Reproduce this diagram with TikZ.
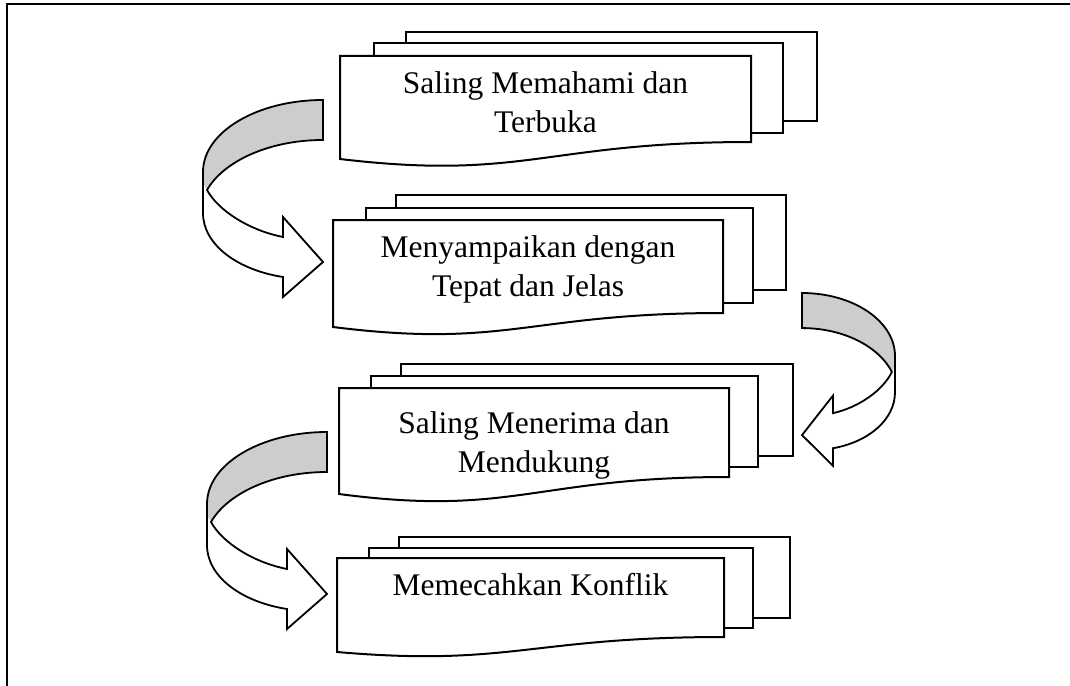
\documentclass[tikz,border=0pt]{standalone}
\usepackage{fontspec}
\setmainfont{Liberation Serif}
\definecolor{bandgray}{RGB}{205,205,205}

% curved ribbon arrow in local coordinates: u runs toward the bulge, v runs down
\newcommand\ribbonarrow{%
  \fill[bandgray] (0,0) .. controls (66,0) and (120,32) .. (120,72) -- (120,86)
    -- (116,90) .. controls (100,62) and (55,40) .. (0,40) -- cycle;
  \fill[white] (120,84) -- (120,113) .. controls (120,145) and (85,170) .. (40,177)
    -- (40,197) -- (0,162) -- (40,117) -- (40,137)
    .. controls (75,130) and (105,110) .. (116,90) -- cycle;
  \draw[band] (0,0) .. controls (66,0) and (120,32) .. (120,72) -- (120,113)
    .. controls (120,145) and (85,170) .. (40,177) -- (40,197) -- (0,162)
    -- (40,117) -- (40,137) .. controls (75,130) and (105,110) .. (116,90)
    .. controls (100,62) and (55,40) .. (0,40) -- cycle;
}

\begin{document}
\begin{tikzpicture}[x=1pt,y=-1pt,
  page/.style={draw=black,fill=white,line width=2pt,line join=miter},
  band/.style={draw=black,line width=1.8pt,line join=miter},
  label/.style={font=\fontsize{31.5}{38.5}\selectfont,align=center,anchor=base,inner sep=0pt}]
\useasboundingbox (0,0) rectangle (1070,685);

% outer frame
\draw[line width=2.8pt] (7,690) -- (7,4) -- (1075,4);

% stack 1 (label anchored at the baseline of its last line)
\draw[page] (406,32) rectangle (817,121);
\draw[page] (374,43) rectangle (783,133);
\draw[page] (340,56) -- (751,56) -- (751,142)
  .. controls (545,142) and (525,181) .. (340,159) -- cycle;
\node[label] (t1) at (545.5,132) {Saling Memahami dan\\Terbuka};

% stack 2
\draw[page] (396,195) rectangle (786,290);
\draw[page] (366,208) rectangle (753,303);
\draw[page] (333,220) -- (723,220) -- (723,313)
  .. controls (528,313) and (508,349) .. (333,327) -- cycle;
\node[label] (t2) at (528,296) {Menyampaikan dengan\\Tepat dan Jelas};

% stack 3
\draw[page] (401,364) rectangle (793,456);
\draw[page] (371,376) rectangle (758,467);
\draw[page] (339,388) -- (729,388) -- (729,477)
  .. controls (534,477) and (514,517) .. (339,494) -- cycle;
\node[label] (t3) at (534,472) {Saling Menerima dan\\Mendukung};

% stack 4
\draw[page] (399,537) rectangle (790,618);
\draw[page] (369,548) rectangle (753,628);
\draw[page] (337,558) -- (724,558) -- (724,637)
  .. controls (530,637) and (511,667) .. (337,652) -- cycle;
\node[label] (t4) at (530.5,595) {Memecahkan Konflik};

% curved arrows between the stacks
\begin{scope}[shift={(323,100)},xscale=-1]
  \ribbonarrow
\end{scope}
\begin{scope}[shift={(802,293)},xscale=0.775,yscale=0.877]
  \ribbonarrow
\end{scope}
\begin{scope}[shift={(327,432)},xscale=-1]
  \ribbonarrow
\end{scope}
\end{tikzpicture}
\end{document}
